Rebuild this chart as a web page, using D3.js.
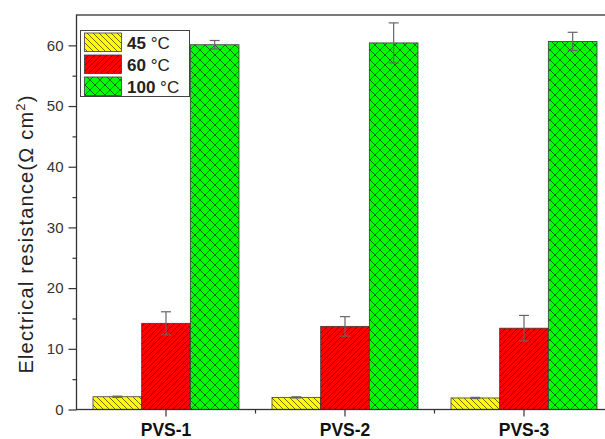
<!DOCTYPE html>
<html><head><meta charset="utf-8">
<script src="https://cdn.jsdelivr.net/npm/d3@7"></script>
<style>body{margin:0;background:#fff}svg{display:block;font-family:Arial,"Liberation Sans",sans-serif}</style>
</head><body>
<svg id="c" width="605" height="439"></svg>
<script>
const categories = ["PVS-1","PVS-2","PVS-3"];
const series = ["45","60","100"];
const values45 = [2.1, 2.0, 1.9];
const errors45 = [0.1, 0.1, 0.1];
const values60 = [14.2, 13.7, 13.4];
const errors60 = [1.9, 1.6, 2.1];
const values100 = [60.1, 60.4, 60.65];
const errors100 = [0.7, 3.3, 1.5];
const yTicks = [0,10,20,30,40,50,60];
const yMinor = [5,15,25,35,45,55];

const svg = d3.select("#c");
const L = 76.5, T = 15, B = 409.5, R = 613.5;
const x = d3.scaleBand().domain(categories).range([L, R]).padding(0);
const x1 = d3.scaleBand().domain(series).range([0, 146]);
const y = d3.scaleLinear().domain([0, 65]).range([B, T]);

const defs = svg.append("defs");
function hatch(id, fill, stroke, paths, size){
  const p = defs.append("pattern").attr("id", id).attr("patternUnits","userSpaceOnUse")
    .attr("width", size).attr("height", size);
  p.append("rect").attr("width", size).attr("height", size).attr("fill", fill);
  paths.forEach(d => p.append("path").attr("d", d).attr("stroke", stroke).attr("stroke-width", 1).attr("fill","none"));
}
hatch("p45", "#ffff00", "#6b6b10", ["M0,0 L6,6","M-3,3 L3,9","M3,-3 L9,3"], 6);
hatch("p60", "#ff0000", "#8a0000", ["M0,6 L6,0","M-3,3 L3,-3","M3,9 L9,3"], 6);
hatch("p100", "#00ff00", "#0d6e0d", ["M0,0 L10,10","M0,10 L10,0","M-5,5 L5,15","M5,-5 L15,5","M-5,5 L5,-5","M5,15 L15,5"], 10);

const data = [
  {s:"45", v:values45, e:errors45, fill:"url(#p45)"},
  {s:"60", v:values60, e:errors60, fill:"url(#p60)"},
  {s:"100", v:values100, e:errors100, fill:"url(#p100)"}
];

const g = svg.append("g");
data.forEach(d => {
  categories.forEach((c, i) => {
    const x0 = x(c) + (x.bandwidth() - 146) / 2 + x1(d.s);
    g.append("rect").attr("x", x0).attr("y", y(d.v[i]))
      .attr("width", x1.bandwidth()).attr("height", y(0) - y(d.v[i]))
      .attr("fill", d.fill).attr("stroke", "#3a3a3a").attr("stroke-width", 0.8);
  });
});
// error bars
data.forEach(d => {
  categories.forEach((c, i) => {
    const cx = x(c) + (x.bandwidth() - 146) / 2 + x1(d.s) + x1.bandwidth() / 2;
    const hi = y(d.v[i] + d.e[i]), lo = y(d.v[i] - d.e[i]);
    const eg = g.append("g").attr("stroke", "#666").attr("stroke-width", 1.2);
    eg.append("line").attr("x1", cx).attr("x2", cx).attr("y1", hi).attr("y2", lo);
    eg.append("line").attr("x1", cx - 5).attr("x2", cx + 5).attr("y1", hi).attr("y2", hi);
    eg.append("line").attr("x1", cx - 5).attr("x2", cx + 5).attr("y1", lo).attr("y2", lo);
  });
});

// frame
svg.append("rect").attr("x", L).attr("y", T).attr("width", R - L).attr("height", B - T)
  .attr("fill", "none").attr("stroke", "#333").attr("stroke-width", 1.3);

// y axis
const yAxis = d3.axisLeft(y).tickValues(yTicks).tickSize(8).tickPadding(5).tickFormat(d3.format("d"));
const ya = svg.append("g").attr("transform", `translate(${L},0)`).call(yAxis);
ya.select(".domain").remove();
ya.selectAll("line").attr("stroke", "#333").attr("stroke-width", 1.2);
ya.selectAll("text").attr("font-size", 15).attr("fill", "#333").attr("font-family","Arial, Liberation Sans, sans-serif");
const yam = svg.append("g").attr("transform", `translate(${L},0)`)
  .call(d3.axisLeft(y).tickValues(yMinor).tickSize(4).tickFormat(""));
yam.select(".domain").remove();
yam.selectAll("line").attr("stroke", "#333").attr("stroke-width", 1.2);

// x axis
const xa = svg.append("g").attr("transform", `translate(0,${B})`)
  .call(d3.axisBottom(x).tickSize(7).tickPadding(7));
xa.select(".domain").remove();
xa.selectAll("line").attr("stroke", "#333").attr("stroke-width", 1.2);
xa.selectAll("text").attr("font-size", 17.5).attr("font-weight", "bold").attr("fill", "#111")
  .attr("font-family","Arial, Liberation Sans, sans-serif");
const xMinor = [categories[0], categories[1]].map(c => x(c) + x.bandwidth());
svg.append("g").selectAll("line").data(xMinor).join("line")
  .attr("x1", d => d).attr("x2", d => d).attr("y1", B).attr("y2", B + 4)
  .attr("stroke", "#333").attr("stroke-width", 1.2);

// y label
const yl = svg.append("text").attr("transform", "translate(33,234) rotate(-90)")
  .attr("text-anchor", "middle").attr("font-size", 20).attr("letter-spacing", 1.2).attr("fill", "#222");
yl.append("tspan").text("Electrical resistance(Ω cm");
yl.append("tspan").attr("font-size", 13).attr("dy", -8).text("2");
yl.append("tspan").attr("dy", 8).text(")");

// legend
const lg = svg.append("g");
lg.append("rect").attr("x", 80.5).attr("y", 30.5).attr("width", 109).attr("height", 66)
  .attr("fill", "#fff").attr("stroke", "#444").attr("stroke-width", 1);
data.forEach((d, i) => {
  const yy = 33 + i * 22;
  lg.append("rect").attr("x", 84.5).attr("y", yy).attr("width", 37).attr("height", 18.5)
    .attr("fill", d.fill).attr("stroke", "#3a3a3a").attr("stroke-width", 0.8);
  const t = lg.append("text").attr("x", 127).attr("y", yy + 15.5).attr("font-size", 17).attr("fill", "#222");
  t.append("tspan").attr("font-weight", "bold").text(d.s);
  t.append("tspan").text(" °C");
});
</script>
</body></html>
